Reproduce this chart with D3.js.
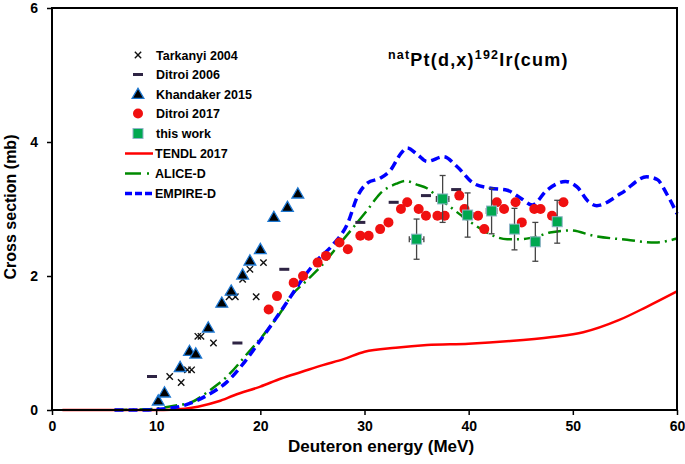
<!DOCTYPE html>
<html><head><meta charset="utf-8">
<script src="https://cdn.jsdelivr.net/npm/d3@7"></script>
<style>
body{margin:0;background:#fff;}
text{font-family:"Liberation Sans",Arial,sans-serif;font-weight:bold;}
</style></head>
<body><svg id="c" width="685" height="464"></svg>
<script>
// ---------- data ----------
const xTicks = [0,10,20,30,40,50,60];
const yTicks = [0,2,4,6];

const tarkanyiE = [11.3,12.4,13.0,13.4,14.0,14.3,15.5,17.0,17.6,18.3,19.0,19.6,20.3];
const tarkanyiS = [0.50,0.41,0.60,0.60,1.10,1.10,1.00,1.69,1.69,1.95,2.10,1.69,2.20];

const ditroi06E = [9.6,17.8,22.3,29.6,32.8,35.9,38.8];
const ditroi06S = [0.50,1.00,2.10,2.80,3.10,3.20,3.29];

const khandakerE = [10.2,10.8,12.3,13.2,13.8,15.0,16.3,17.2,18.3,19.0,20.0,21.3,22.6,23.6];
const khandakerS = [0.14,0.26,0.64,0.88,0.84,1.23,1.60,1.78,2.02,2.23,2.40,2.88,3.03,3.23];

const ditroi17E = [20.8,21.6,23.2,24.1,25.5,26.3,27.6,28.4,29.6,30.4,31.5,32.3,33.5,34.1,35.2,35.9,37.0,37.7,39.1,39.6,40.9,41.5,42.7,43.4,44.5,45.1,46.3,46.9,48.0,49.1];
const ditroi17S = [1.50,1.70,1.90,2.00,2.20,2.30,2.50,2.40,2.60,2.60,2.70,2.80,3.00,3.10,3.00,2.90,2.90,2.90,3.20,3.00,2.90,2.70,3.10,3.00,3.10,2.80,3.00,3.00,2.90,3.10];

const thisWorkE   = [35.0,37.5,39.9,42.2,44.4,46.4,48.5];
const thisWorkS   = [2.55,3.15,2.91,2.97,2.70,2.51,2.81];
const thisWorkDS  = [0.30,0.35,0.33,0.34,0.31,0.29,0.32];
const thisWorkDE  = [0.7,0.6,0.5,0.5,0.4,0.4,0.3];

const tendlE = [1,5,8,10,11.4,14,16,17.5,20,22,24,26,28,30,33,36,40,44,48,51,54.4,57.1,60];
const tendlS = [0,0,0,0,0.005,0.05,0.13,0.22,0.35,0.47,0.57,0.67,0.76,0.87,0.93,0.97,0.99,1.03,1.09,1.16,1.34,1.54,1.77];

const aliceE = [6,9,10.5,12,13.3,15.2,16.8,18.8,20.4,22,22.9,24.5,25.8,27.4,29,30.3,31.5,33.1,33.9,35.1,36,37,38.4,39.5,41.1,42.1,43.7,45,46.6,47.8,49.8,52,55.2,57.9,60];
const aliceS = [0,0.01,0.03,0.07,0.11,0.30,0.50,0.85,1.14,1.47,1.69,1.94,2.14,2.44,2.74,2.99,3.23,3.38,3.42,3.36,3.31,3.18,3.01,2.88,2.71,2.62,2.55,2.55,2.59,2.65,2.68,2.60,2.54,2.50,2.56];

const empireE = [6,9,10.1,12.7,14.9,16.8,18.4,20,21.6,22.9,24.2,25.5,27.1,28.4,29.3,30.3,31.5,32.5,33.5,34.1,35.1,36,37.6,38.9,40.5,42.1,43.7,45,46.1,47.5,49.3,50.4,51.5,52.3,54.6,57.1,58.1,59,60];
const empireS = [0,0,0.01,0.07,0.22,0.42,0.70,1.04,1.39,1.69,1.99,2.24,2.49,2.79,3.18,3.39,3.46,3.58,3.83,3.91,3.81,3.71,3.78,3.63,3.38,3.31,3.28,3.16,3.06,3.28,3.41,3.33,3.11,3.05,3.23,3.48,3.44,3.23,2.93];

const legendLabels = ["Tarkanyi 2004","Ditroi 2006","Khandaker 2015","Ditroi 2017","this work","TENDL 2017","ALICE-D","EMPIRE-D"];

// ---------- chart ----------
const svg = d3.select("#c");
const X0=52, X1=677, Y0=410, Y1=8;
const x = d3.scaleLinear().domain([0,60]).range([X0,X1]);
const y = d3.scaleLinear().domain([0,6]).range([Y0,Y1]);
const zip = (a,b)=>a.map((v,i)=>[v,b[i]]);

// curves
const line = d3.line().x(d=>x(d[0])).y(d=>y(d[1])).curve(d3.curveMonotoneX);
const plot = svg.append("g");
plot.append("path").datum(zip(tendlE,tendlS)).attr("d",line)
  .attr("fill","none").attr("stroke","#ff0000").attr("stroke-width",2.5);
plot.append("path").datum(zip(aliceE,aliceS)).attr("d",line)
  .attr("fill","none").attr("stroke","#008a00").attr("stroke-width",2.5)
  .attr("stroke-dasharray","13,5,2,5");
plot.append("path").datum(zip(empireE,empireS)).attr("d",line)
  .attr("fill","none").attr("stroke","#0000ff").attr("stroke-width",3.5)
  .attr("stroke-dasharray","9,5");

// markers
const sym = {
  tark: d3.symbol().type(d3.symbolTimes).size(28),
  tri: d3.symbol().type(d3.symbolTriangle).size(60)
};
function tarkanyi(g,cx,cy){
  g.append("path").attr("d",sym.tark()).attr("transform",`translate(${cx},${cy})`)
    .attr("fill","none").attr("stroke","#111").attr("stroke-width",1.4);
}
function dash06(g,cx,cy){
  g.append("rect").attr("x",cx-5).attr("y",cy-1.5).attr("width",10).attr("height",3).attr("fill","#2e2444");
}
function tri(g,cx,cy){
  g.append("path").attr("d",sym.tri()).attr("transform",`translate(${cx},${cy+1})`)
    .attr("fill","#000").attr("stroke","#1e78d2").attr("stroke-width",1.3);
}
function circ(g,cx,cy){
  g.append("circle").attr("cx",cx).attr("cy",cy).attr("r",5).attr("fill","#f01010");
}
function square(g,cx,cy){
  g.append("rect").attr("x",cx-5).attr("y",cy-5).attr("width",10).attr("height",10)
    .attr("fill","#00a850").attr("stroke","#8fb4c8").attr("stroke-width",1);
}

const mk = svg.append("g");
tarkanyiE.forEach((e,i)=>tarkanyi(mk,x(e),y(tarkanyiS[i])));
ditroi06E.forEach((e,i)=>dash06(mk,x(e),y(ditroi06S[i])));
khandakerE.forEach((e,i)=>tri(mk,x(e),y(khandakerS[i])));
ditroi17E.forEach((e,i)=>circ(mk,x(e),y(ditroi17S[i])));
// this work with error bars
thisWorkE.forEach((e,i)=>{
  const cx=x(e), cy=y(thisWorkS[i]);
  const yt=y(thisWorkS[i]+thisWorkDS[i]), yb=y(thisWorkS[i]-thisWorkDS[i]);
  const xl=x(e-thisWorkDE[i]), xr=x(e+thisWorkDE[i]);
  const c="#444";
  mk.append("line").attr("x1",cx).attr("x2",cx).attr("y1",yt).attr("y2",yb).attr("stroke",c).attr("stroke-width",1.3);
  mk.append("line").attr("x1",cx-3).attr("x2",cx+3).attr("y1",yt).attr("y2",yt).attr("stroke",c).attr("stroke-width",1.3);
  mk.append("line").attr("x1",cx-3).attr("x2",cx+3).attr("y1",yb).attr("y2",yb).attr("stroke",c).attr("stroke-width",1.3);
  mk.append("line").attr("x1",xl).attr("x2",xr).attr("y1",cy).attr("y2",cy).attr("stroke",c).attr("stroke-width",1.3);
  mk.append("line").attr("x1",xl).attr("x2",xl).attr("y1",cy-3).attr("y2",cy+3).attr("stroke",c).attr("stroke-width",1.3);
  mk.append("line").attr("x1",xr).attr("x2",xr).attr("y1",cy-3).attr("y2",cy+3).attr("stroke",c).attr("stroke-width",1.3);
  square(mk,cx,cy);
});

// frame
svg.append("rect").attr("x",X0).attr("y",Y1).attr("width",X1-X0).attr("height",Y0-Y1)
  .attr("fill","none").attr("stroke","#000").attr("stroke-width",2);

// axes
const xa = svg.append("g").attr("transform",`translate(0,${Y0})`)
  .call(d3.axisBottom(x).tickValues(xTicks).tickSize(5).tickPadding(6).tickFormat(d3.format("d")));
const ya = svg.append("g").attr("transform",`translate(${X0},0)`)
  .call(d3.axisLeft(y).tickValues(yTicks).tickSize(5).tickPadding(9).tickFormat(d3.format("d")));
[xa,ya].forEach(a=>{
  a.select(".domain").remove();
  a.selectAll("line").attr("stroke","#000").attr("stroke-width",1.5);
  a.selectAll("text").attr("font-size",14).attr("font-weight","bold").attr("fill","#000")
    .attr("font-family","Liberation Sans, Arial, sans-serif");
});

// axis titles
svg.append("text").attr("x",381).attr("y",452).attr("text-anchor","middle")
  .attr("font-size",17).text("Deuteron energy (MeV)");
svg.append("text").attr("transform",`translate(10,207) rotate(-90)`)
  .attr("text-anchor","middle").attr("dy","0.35em").attr("font-size",16).text("Cross section (mb)");

// title
const t = svg.append("text").attr("x",388).attr("y",66).attr("font-size",18).attr("letter-spacing",1.2);
t.append("tspan").attr("font-size",12.5).attr("dy",-7).text("nat");
t.append("tspan").attr("dy",7).text("Pt(d,x)");
t.append("tspan").attr("font-size",12.5).attr("dy",-7).text("192");
t.append("tspan").attr("dy",7).text("Ir(cum)");

// legend
const lg = svg.append("g");
const rows = [55,74.5,94,113.5,133.5,153.5,173.5,193.5];
const mx = 138, lx1=125, lx2=153, tx=156;
tarkanyi(lg,mx,rows[0]);
dash06(lg,mx,rows[1]);
tri(lg,mx,rows[2]);
circ(lg,mx,rows[3]);
square(lg,mx,rows[4]);
lg.append("line").attr("x1",lx1).attr("x2",lx2).attr("y1",rows[5]).attr("y2",rows[5]).attr("stroke","#ff0000").attr("stroke-width",2.5);
lg.append("line").attr("x1",lx1).attr("x2",lx2).attr("y1",rows[6]).attr("y2",rows[6]).attr("stroke","#008a00").attr("stroke-width",2.5).attr("stroke-dasharray","16,6,2,6");
lg.append("line").attr("x1",lx1).attr("x2",lx2).attr("y1",rows[7]).attr("y2",rows[7]).attr("stroke","#0000ff").attr("stroke-width",3.5).attr("stroke-dasharray","7,3");
legendLabels.forEach((s,i)=>{
  lg.append("text").attr("x",i<5?tx:tx-1).attr("y",rows[i]).attr("dy","0.36em").attr("font-size",12.5).text(s);
});
</script></body></html>
